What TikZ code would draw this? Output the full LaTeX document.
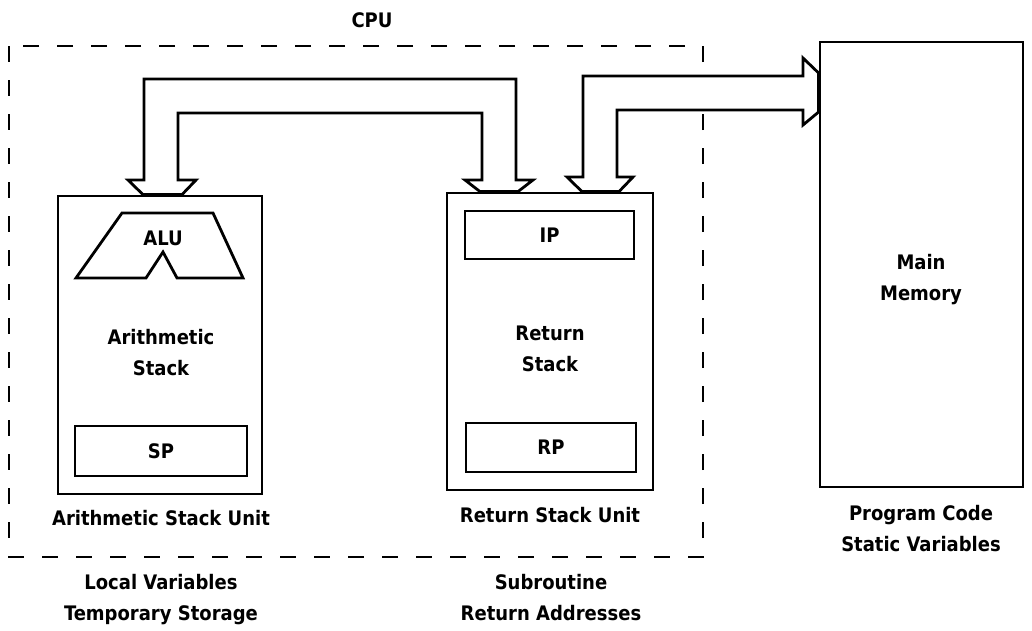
\documentclass[tikz,border=0pt]{standalone}
\usepackage{fontspec}
\setmainfont{DejaVu Sans Condensed}
\begin{document}
\begin{tikzpicture}[x=1pt, y=-1pt, line width=2.8pt,
    unit/.style={draw, rectangle, inner sep=0pt},
    reg/.style={draw, rectangle, inner sep=0pt, line width=2.5pt},
    lbl/.style={align=center, font=\fontsize{20}{31}\selectfont\bfseries},
    bus/.style={draw, fill=white, line join=miter}]
    \useasboundingbox (0,0) rectangle (1032,630);
    % CPU boundary
    \draw[dash pattern=on 16pt off 18pt] (9,46) rectangle (703,557);
    \node[lbl] (cpu) at (372,20) {CPU};
    % the two stack units and main memory
    \node[unit, minimum width=204pt, minimum height=298pt] (asu) at (160,345) {};
    \node[unit, minimum width=206pt, minimum height=297pt] (rsu) at (550,341.5) {};
    \node[unit, minimum width=203pt, minimum height=445pt] (mem) at (921.5,264.5) {};
    % registers
    \node[reg, minimum width=172pt, minimum height=50pt, lbl] (sp) at (161,451) {SP};
    \node[reg, minimum width=169pt, minimum height=48pt, lbl] (ip) at (549.5,235) {IP};
    \node[reg, minimum width=170pt, minimum height=49pt, lbl] (rp) at (551,447.5) {RP};
    % ALU
    \draw[line join=miter] (122,213) -- (213,213) -- (243,278) -- (177,278)
        -- (163,252) -- (146,278) -- (76,278) -- cycle;
    \node[lbl] (alu) at (163,238) {ALU};
    % texts
    \node[lbl] (astack) at (161,352.5) {Arithmetic\\Stack};
    \node[lbl] (rstack) at (550,349) {Return\\Stack};
    \node[lbl] (mmem) at (921,280) {Main\\Memory};
    \node[lbl] (asuname) at (161,518) {Arithmetic Stack Unit};
    \node[lbl] (rsuname) at (550,515) {Return Stack Unit};
    \node[lbl] (asunote) at (161,600) {Local Variables\\Temporary Storage};
    \node[lbl] (rsunote) at (551,598) {Subroutine\\Return Addresses};
    \node[lbl] (memnote) at (921,529) {Program Code\\Static Variables};
    % bus between the stacks
    \draw[bus] (128,180) -- (144,180) -- (144,79) -- (516,79) -- (516,180)
        -- (533,180) -- (518,0 |- rsu.north) -- (480,0 |- rsu.north)
        -- (465,180) -- (482,180) -- (482,113) -- (178,113) -- (178,180)
        -- (196,180) -- (182,0 |- asu.north) -- (143,0 |- asu.north) -- cycle;
    % bus to main memory
    \draw[bus] (567,177) -- (583,177) -- (583,76) -- (803,76) -- (803,58)
        -- (mem.west |- 0,73) -- (mem.west |- 0,112) -- (803,125) -- (803,110)
        -- (617,110) -- (617,177) -- (633,177) -- (619,0 |- rsu.north)
        -- (582,0 |- rsu.north) -- cycle;
\end{tikzpicture}
\end{document}
